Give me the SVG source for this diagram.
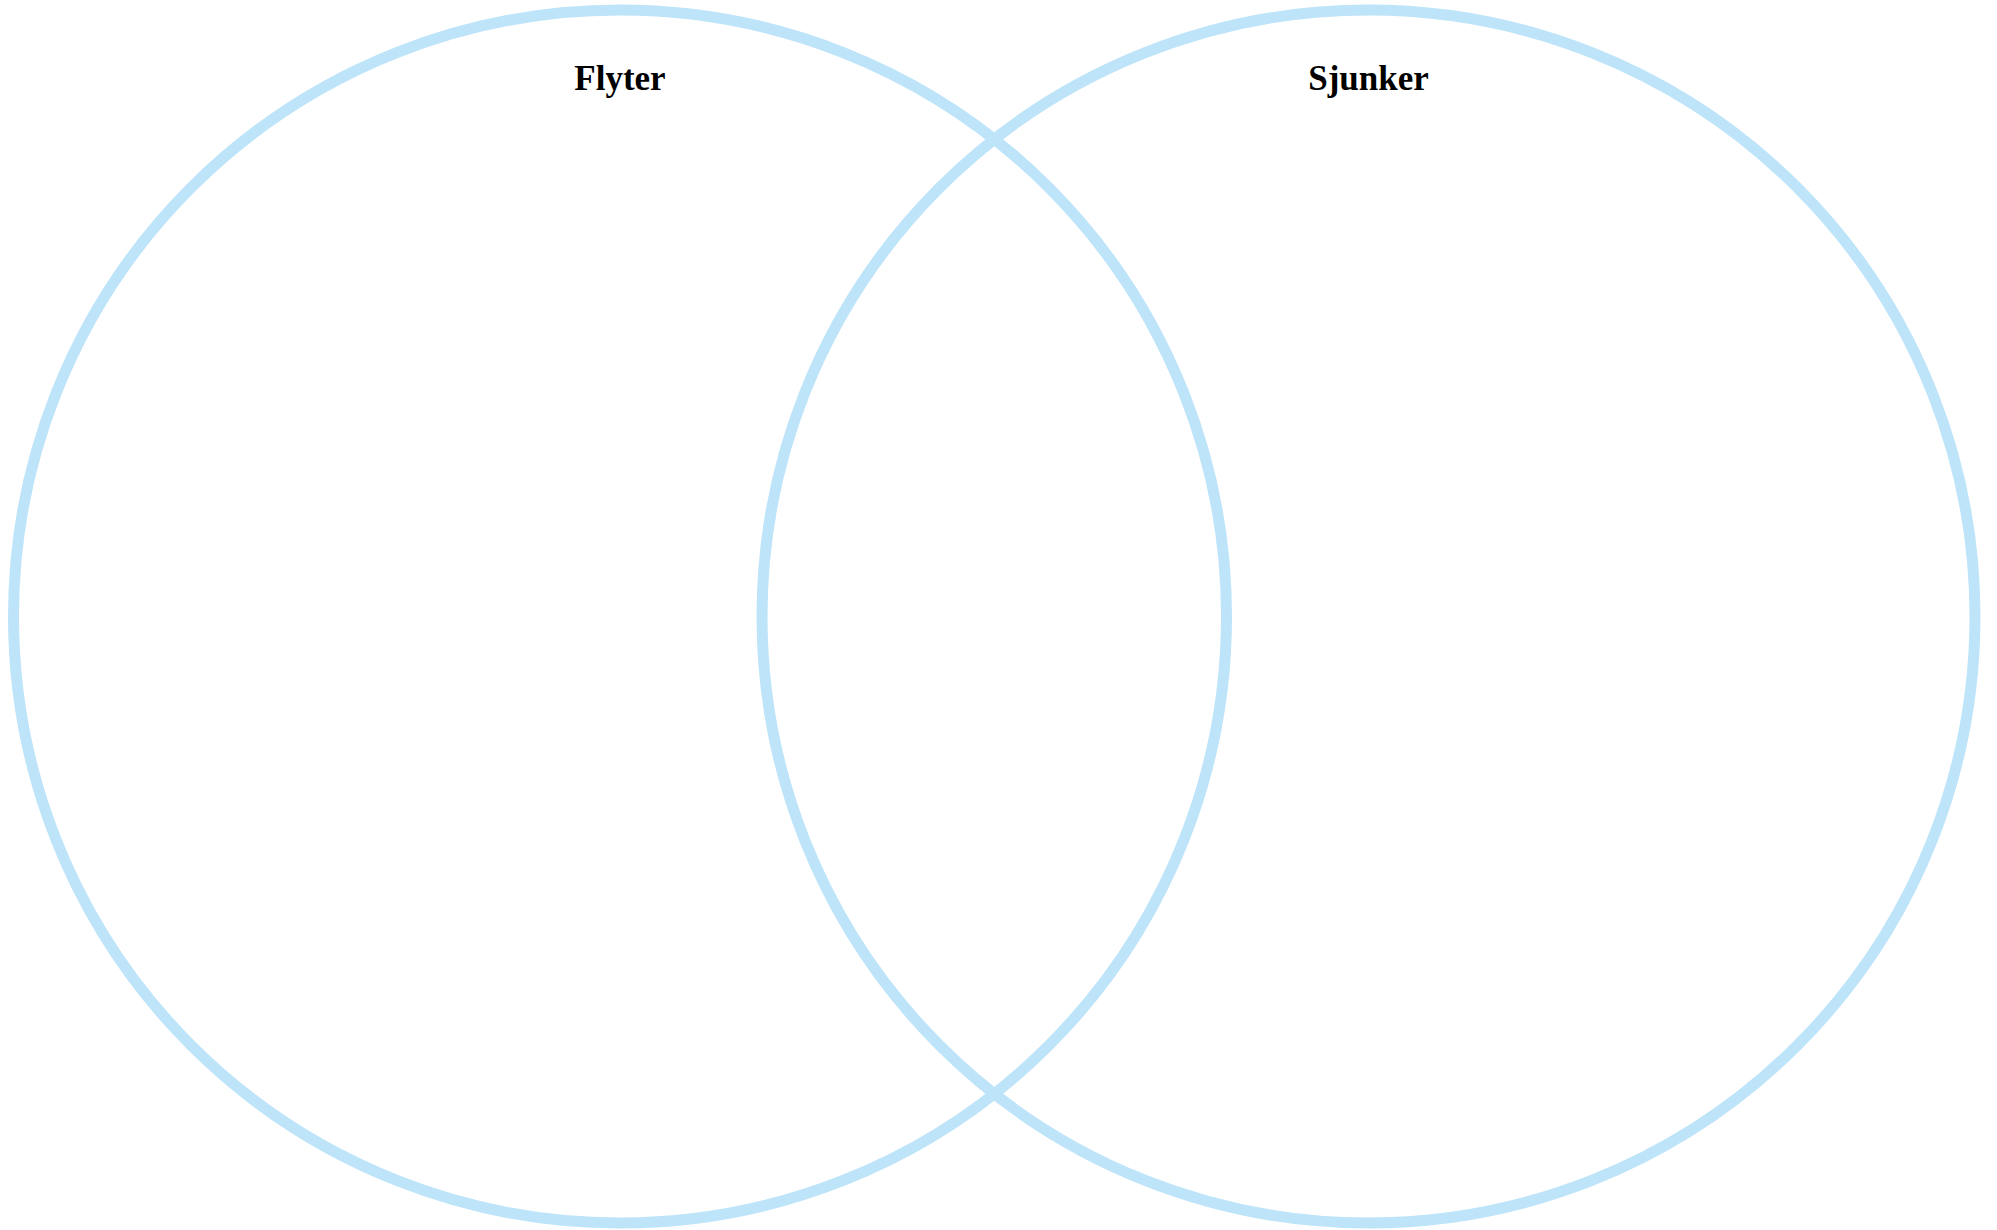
<svg xmlns="http://www.w3.org/2000/svg" width="1997" height="1230" viewBox="0 0 1997 1230">
<style>
.ring{fill:none;stroke:#bee4f9;stroke-width:11}
.lbl{font-family:"Liberation Serif","DejaVu Serif",serif;font-weight:bold;font-size:35px;fill:#000;text-anchor:middle}
</style>
<rect width="1997" height="1230" fill="#fff"/>
<g id="set-flyter">
<circle class="ring" cx="620" cy="616.5" r="606.5"/>
<text class="lbl" x="620" y="90">Flyter</text>
</g>
<g id="set-sjunker">
<circle class="ring" cx="1368.5" cy="616.5" r="606.5"/>
<text class="lbl" x="1368.5" y="90">Sjunker</text>
</g>
<g id="connectors"></g>
</svg>
